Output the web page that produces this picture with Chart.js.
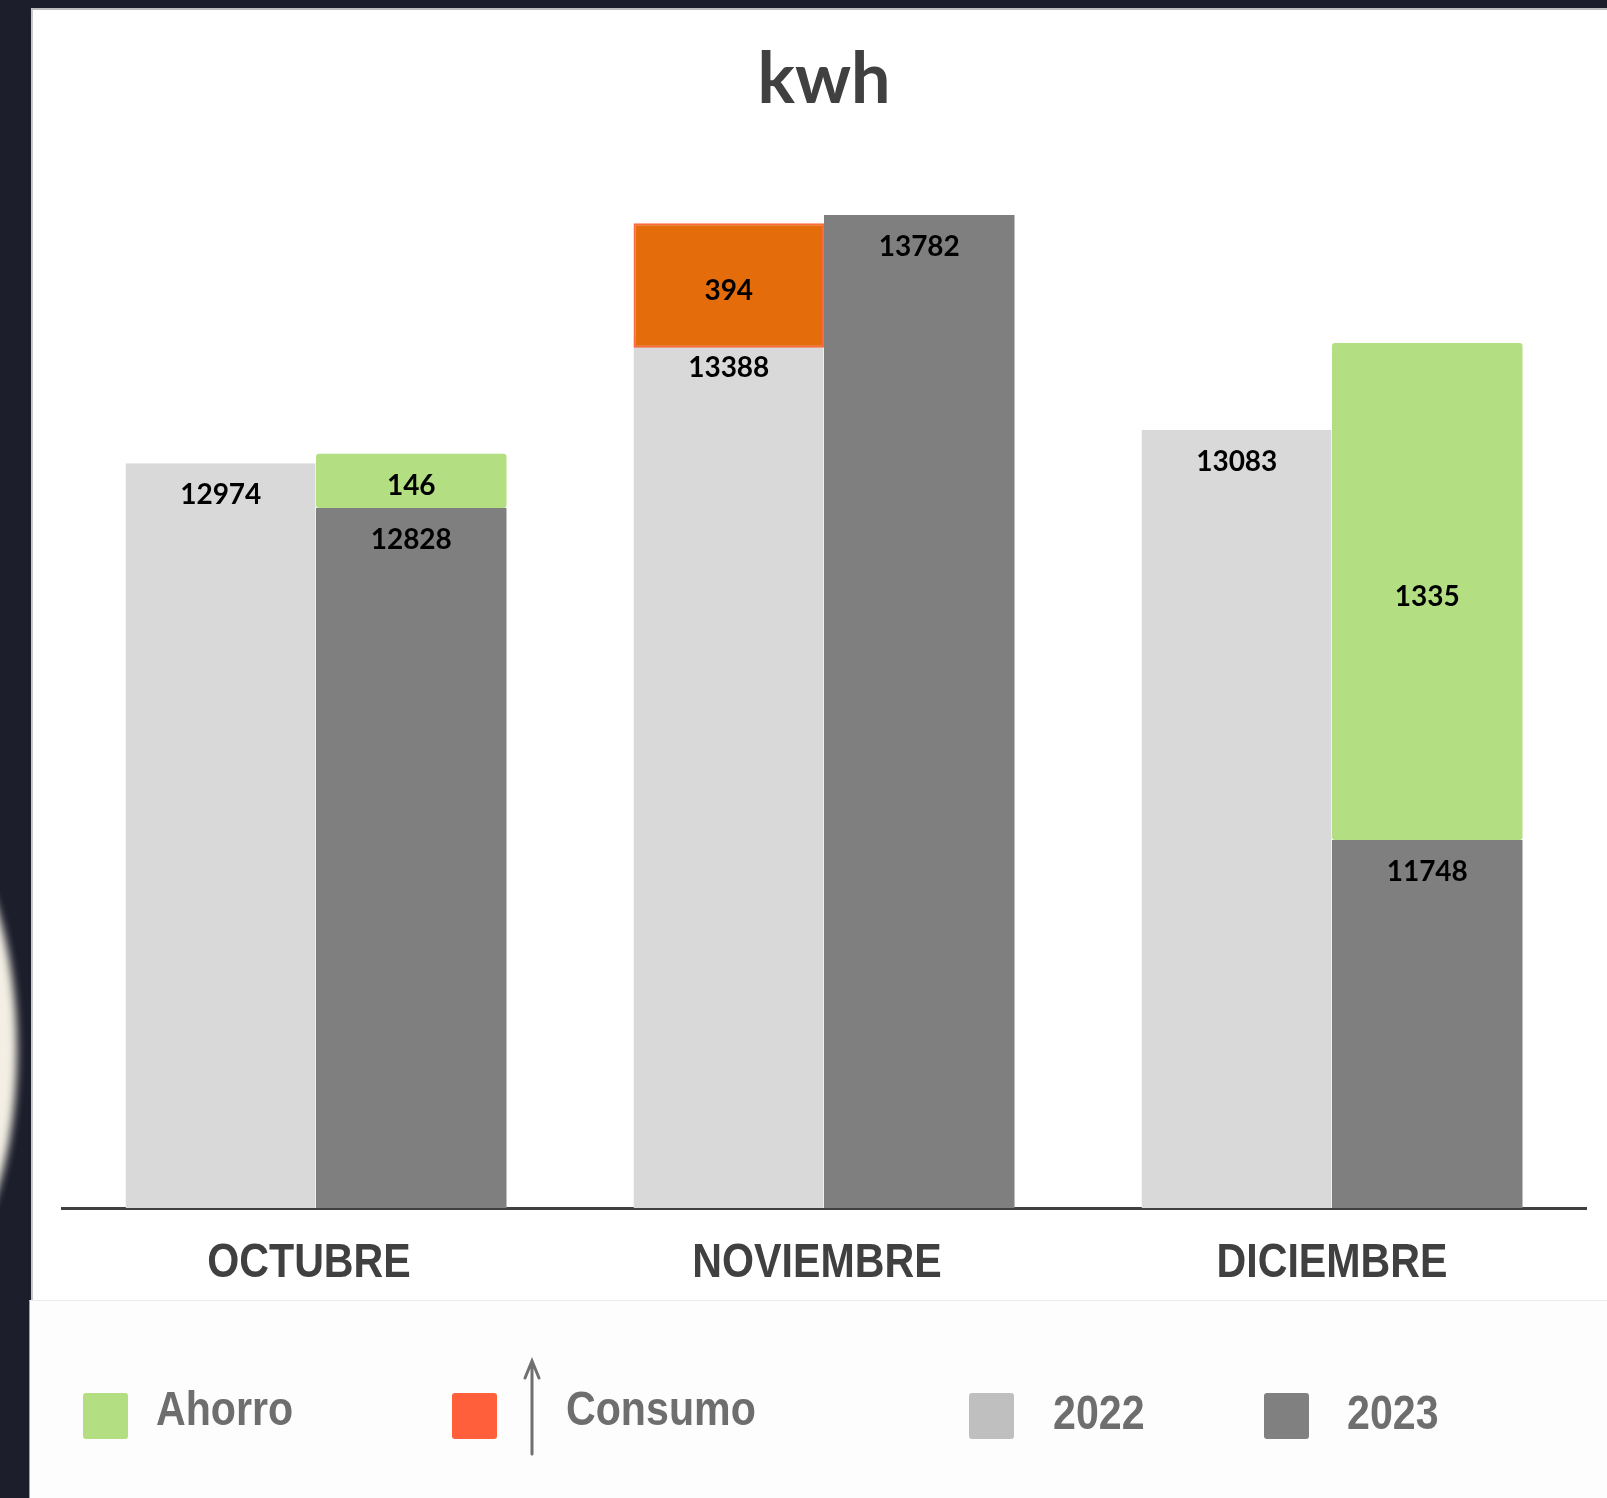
<!DOCTYPE html>
<html>
<head>
<meta charset="utf-8">
<script src="https://cdn.jsdelivr.net/npm/chart.js@4.4.1/dist/chart.umd.min.js"></script>
<style>
    html, body { margin: 0; padding: 0; width: 1607px; height: 1498px; overflow: hidden; background: #1c1e2c; position: relative; }
    #glow { position: absolute; left: -200px; top: 805px; width: 217px; height: 490px; border-radius: 50%; background: #f3efe4; filter: blur(4px); }
    #panel { position: absolute; left: 31px; top: 8px; width: 1576px; height: 1292px; background: #fff; border-top: 2px solid #bdbdbd; border-left: 2px solid #c9c9c9; box-sizing: border-box; }
    #kwh-chart { position: absolute; left: 33px; top: 10px; }
    #legend { position: absolute; left: 29px; top: 1300px; width: 1578px; height: 198px; background: #fdfdfd; border-top: 1px solid #ebebeb; border-left: 1px solid #a0a0a0; box-sizing: border-box; }
    .sw { position: absolute; top: 92px; width: 45px; height: 46px; border-radius: 3px; }
    .lbl { position: absolute; font: bold 49px 'Liberation Sans', Arial, sans-serif; line-height: 1; color: #6e6e6e; white-space: nowrap; transform: scaleX(0.84); transform-origin: 0 0; }
</style>
</head>
<body>
<div id="glow"></div>
<div id="panel"></div>
<canvas id="kwh-chart" width="1574" height="1290"></canvas>
<div id="legend"></div>

<script>
// months and readings (kWh)
const months = ['OCTUBRE', 'NOVIEMBRE', 'DICIEMBRE'];
const values2022 = [12974, 13388, 13083];
const values2023 = [12828, 13782, 11748];
const ahorro = [146, null, 1335];
const consumo = [null, 394, null];

// where the difference boxes are drawn in the picture (kWh scale)
const ahorroFrom = [12828, null, 11748];
const ahorroTo = [13005, null, 13365];
const consumoFrom = [null, 13350, null];
const consumoTo = [null, 13755, null];

const yMin = 10550;
const yMax = 14000;

const legendLabels = ['Ahorro', 'Consumo', '2022', '2023'];
const legendColors = ['#b3de82', '#ff5f3b', '#bfbfbf', '#808080'];

const toRange = (from, to) => from.map((f, i) => (f == null ? null : [f, to[i]]));

// value labels inside the bars
const barLabels = {
    id: 'barLabels',
    afterDatasetsDraw(chart) {
        const ctx = chart.ctx;
        ctx.save();
        ctx.font = 'bold 28px Lato';
        ctx.fillStyle = '#000';
        ctx.textAlign = 'center';
        ctx.textBaseline = 'middle';
        chart.data.datasets.forEach((ds, i) => {
            const meta = chart.getDatasetMeta(i);
            meta.data.forEach((bar, j) => {
                const txt = ds.valueLabels[j];
                if (txt == null) return;
                const y = ds.floating ? (bar.y + bar.base) / 2 + 5 : bar.y + 32;
                ctx.fillText(String(txt), bar.x, y);
            });
        });
        ctx.restore();
    }
};

// month names under the axis, narrow bold like the original
const monthLabels = {
    id: 'monthLabels',
    afterDraw(chart) {
        const ctx = chart.ctx;
        const xScale = chart.scales.x;
        const y = chart.chartArea.bottom + 69;
        ctx.save();
        ctx.font = "bold 49px 'Liberation Sans'";
        ctx.fillStyle = '#404040';
        ctx.textAlign = 'center';
        ctx.textBaseline = 'alphabetic';
        months.forEach((m, i) => {
            ctx.save();
            ctx.translate(xScale.getPixelForTick(i) - (i < 2 ? 7 : 0), y);
            ctx.scale(0.84, 1);
            ctx.fillText(m, 0, 0);
            ctx.restore();
        });
        ctx.restore();
    }
};

function buildLegend() {
    const box = document.getElementById('legend');
    const swatchX = [53, 422, 939, 1234];
    const textX = [126, 536, 1023, 1317];
    const textY = [83, 83, 87, 87];
    legendLabels.forEach((label, i) => {
        box.insertAdjacentHTML('beforeend',
            `<div class="sw" style="left:${swatchX[i]}px;background:${legendColors[i]}"></div>` +
            `<div class="lbl" style="left:${textX[i]}px;top:${textY[i]}px">${label}</div>`);
    });
    // arrow next to Consumo
    box.insertAdjacentHTML('beforeend',
        `<svg style="position:absolute;left:490px;top:55px" width="24" height="102">
            <path d="M12 98 L12 7 M5 22 L12 5 L19 22" stroke="#707070" stroke-width="3" fill="none" stroke-linecap="round"/>
        </svg>`);
}

function drawChart() {
    const ctx = document.getElementById('kwh-chart').getContext('2d');
    new Chart(ctx, {
        type: 'bar',
        data: {
            labels: months,
            datasets: [
                {
                    label: 'Consumo', stack: '2022', floating: true, valueLabels: consumo,
                    data: toRange(consumoFrom, consumoTo),
                    backgroundColor: '#e46c0a', borderColor: '#ff6a3d', borderWidth: 2, borderSkipped: false
                },
                {
                    label: 'Ahorro', stack: '2023', floating: true, valueLabels: ahorro,
                    data: toRange(ahorroFrom, ahorroTo),
                    backgroundColor: '#b3de82', borderRadius: 3, borderSkipped: false
                },
                {
                    label: '2022', stack: '2022', valueLabels: values2022,
                    data: values2022, backgroundColor: '#d9d9d9',
                    borderColor: '#efefef', borderWidth: { right: 1 }
                },
                {
                    label: '2023', stack: '2023', valueLabels: values2023,
                    data: values2023, backgroundColor: '#7f7f7f'
                }
            ]
        },
        options: {
            responsive: false,
            animation: false,
            categoryPercentage: 0.75,
            barPercentage: 1.0,
            layout: { padding: { left: 29, right: 21, top: 0, bottom: 84 } },
            plugins: {
                legend: { display: false },
                tooltip: { enabled: false },
                title: {
                    display: true, text: 'kwh', color: '#404040',
                    font: { family: 'Lato', size: 70, weight: 'bold' },
                    padding: { top: 28, bottom: 26 }
                }
            },
            scales: {
                x: {
                    grid: { display: false },
                    border: { display: true, color: '#404040', width: 3 },
                    ticks: { display: false }
                },
                y: { display: false, stacked: false, min: yMin, max: yMax }
            }
        },
        plugins: [barLabels, monthLabels]
    });
}

buildLegend();
Promise.all([
    document.fonts.load('bold 28px Lato'),
    document.fonts.load('bold 70px Lato'),
    document.fonts.load("bold 49px 'Liberation Sans'")
]).catch(() => {}).then(drawChart);
</script>
</body>
</html>
